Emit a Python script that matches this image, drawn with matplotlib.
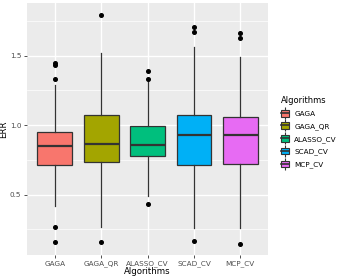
import matplotlib
matplotlib.use("Agg")
import matplotlib.pyplot as plt
from matplotlib.patches import Patch
from matplotlib.lines import Line2D
from matplotlib.legend_handler import HandlerTuple
import numpy as np

algorithms = ["GAGA", "GAGA_QR", "ALASSO_CV", "SCAD_CV", "MCP_CV"]
colors = ["#F8766D", "#A3A500", "#00BF7D", "#00B0F6", "#E76BF3"]

# box statistics
q1 = [0.710, 0.736, 0.779, 0.710, 0.717]
med = [0.849, 0.863, 0.858, 0.928, 0.928]
q3 = [0.952, 1.072, 0.995, 1.072, 1.055]
whislo = [0.417, 0.264, 0.489, 0.257, 0.257]
whishi = [1.288, 1.520, 1.312, 1.563, 1.487]
fliers = [
    [1.333, 1.432, 1.444, 0.264, 0.158],
    [1.794, 0.158],
    [1.331, 1.391, 0.432],
    [1.707, 1.671, 0.165],
    [1.664, 1.624, 0.146],
]

stats = []
for i, name in enumerate(algorithms):
    stats.append(dict(label=name, q1=q1[i], med=med[i], q3=q3[i],
                      whislo=whislo[i], whishi=whishi[i], fliers=fliers[i]))

fig = plt.figure(figsize=(3.46, 2.77), dpi=100)
ax = fig.add_axes([0.078, 0.079, 0.697, 0.910])
ax.set_facecolor("#EBEBEB")

edge = "#333333"
bp = ax.bxp(stats, positions=range(1, 6), widths=0.75, patch_artist=True,
            showcaps=False,
            boxprops=dict(edgecolor=edge, linewidth=0.9),
            whiskerprops=dict(color=edge, linewidth=0.9),
            medianprops=dict(color=edge, linewidth=1.6),
            flierprops=dict(marker="o", markersize=2.6, markerfacecolor="black",
                            markeredgecolor="black", linestyle="none"),
            zorder=3)
for patch, c in zip(bp["boxes"], colors):
    patch.set_facecolor(c)

ax.set_xlim(0.4, 5.6)
ax.set_ylim(0.065, 1.878)
ax.set_yticks([0.5, 1.0, 1.5])
ax.set_yticklabels(["0.5", "1.0", "1.5"])
ax.set_yticks([0.25, 0.75, 1.25, 1.75], minor=True)
ax.set_xticks(range(1, 6))
ax.set_xticklabels(algorithms)

ax.grid(True, which="major", color="white", linewidth=1.0, zorder=0)
ax.grid(True, which="minor", axis="y", color="white", linewidth=0.5, zorder=0)
ax.set_axisbelow(True)
for s in ax.spines.values():
    s.set_visible(False)
ax.tick_params(axis="both", which="major", length=2.5, width=0.6, color="#333333",
               labelsize=5.2, labelcolor="#4D4D4D", pad=1.5)
ax.tick_params(axis="y", which="minor", length=0)

ax.set_xlabel("Algorithms", fontsize=6.2, labelpad=0)
ax.set_ylabel("ERR", fontsize=6.2, labelpad=1)

# legend keys like ggplot's boxplot key: whisker, box, median
handles = []
for c in colors:
    whisk = Line2D([], [], marker="|", markersize=9, markeredgewidth=0.8,
                   color=edge, linestyle="none")
    box = Patch(facecolor=c, edgecolor=edge, linewidth=0.8)
    mid = Line2D([], [], color=edge, linewidth=1.2)
    handles.append((whisk, box, mid))
leg = fig.legend(handles, algorithms, title="Algorithms", loc="upper left",
                 bbox_to_anchor=(0.805, 0.665), frameon=False, fontsize=5.2,
                 title_fontsize=6.0, handlelength=1.0, handleheight=1.0,
                 handletextpad=0.8, labelspacing=0.75, borderaxespad=0,
                 handler_map={tuple: HandlerTuple(ndivide=1, pad=0)})
leg._legend_box.align = "left"

fig.savefig("out.png", dpi=100)
